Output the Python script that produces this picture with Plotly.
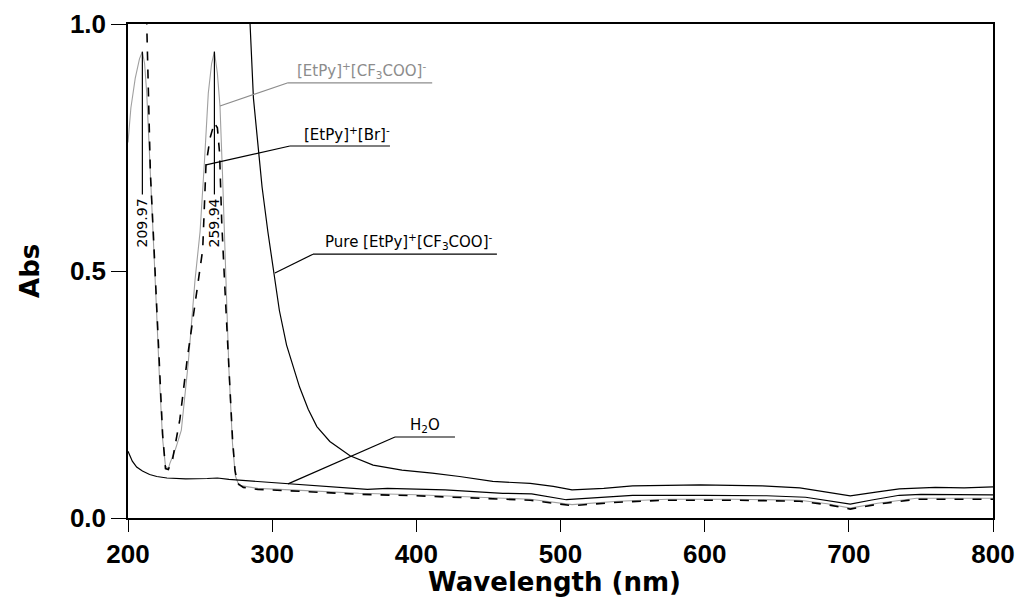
import plotly.graph_objects as go

# ---------------- data ----------------
pure_wl = [200, 250, 280, 284.6, 287, 291, 293, 297, 301, 305, 310, 315, 319, 325, 331, 340, 354,
           370, 390, 411, 430, 453, 479, 495, 508, 530, 550, 597, 640, 666, 685, 701, 720, 735,
           760, 780, 800]
pure_abs = [3.0, 2.5, 1.3, 1.0, 0.85, 0.73, 0.67, 0.58, 0.50, 0.42, 0.35, 0.30, 0.265, 0.22, 0.185,
            0.155, 0.126, 0.107, 0.097, 0.091, 0.084, 0.074, 0.070, 0.064, 0.057, 0.060, 0.065,
            0.067, 0.065, 0.061, 0.052, 0.045, 0.053, 0.059, 0.062, 0.061, 0.063]

h2o_wl = [200, 203, 206, 210, 215, 220, 227, 240, 255, 262, 270, 290, 311, 330, 350, 366, 380,
          420, 460, 480, 504, 520, 550, 600, 643, 670, 690, 701, 715, 735, 750, 800]
h2o_abs = [0.135, 0.115, 0.103, 0.095, 0.088, 0.084, 0.081, 0.079, 0.080, 0.081, 0.078, 0.074,
           0.069, 0.065, 0.062, 0.058, 0.060, 0.057, 0.050, 0.049, 0.037, 0.040, 0.046, 0.046,
           0.045, 0.042, 0.032, 0.028, 0.036, 0.046, 0.048, 0.047]

br_wl = [200, 210, 213, 214, 215.5, 217.5, 219.5, 222, 224, 226, 228, 231, 236, 241, 246, 248,
         251.8, 254.1, 257, 259.9, 262, 263.5, 265, 267.3, 270.3, 272.5, 274.2, 276, 280, 290, 320,
         360, 400, 440, 479, 508, 540, 574, 620, 666, 685, 701, 720, 747, 800]
br_abs = [2.0, 1.5, 1.0, 0.86, 0.70, 0.58, 0.46, 0.28, 0.17, 0.10, 0.098, 0.12, 0.20, 0.32, 0.42,
          0.46, 0.543, 0.715, 0.77, 0.80, 0.79, 0.74, 0.60, 0.46, 0.27, 0.16, 0.097, 0.07, 0.062,
          0.058, 0.054, 0.048, 0.045, 0.040, 0.036, 0.025, 0.032, 0.036, 0.036, 0.034, 0.027,
          0.018, 0.028, 0.038, 0.038]

cf3_wl = [200, 202, 205, 208, 209.97, 211.5, 213, 215, 217, 219.5, 222, 224, 226, 228, 229, 233,
          237, 241.8, 246.5, 250, 253, 255.7, 258, 259.94, 262, 263.8, 265.5, 267.5, 270, 272.5,
          274.5, 277, 290, 320, 360, 400, 440, 479, 508, 540, 574, 620, 666, 685, 701, 720, 747, 800]
cf3_abs = [0.76, 0.83, 0.89, 0.93, 0.944, 0.92, 0.86, 0.72, 0.58, 0.44, 0.27, 0.16, 0.105, 0.10,
           0.11, 0.14, 0.178, 0.314, 0.482, 0.58, 0.72, 0.86, 0.92, 0.944, 0.90, 0.834, 0.70,
           0.50, 0.30, 0.15, 0.085, 0.066, 0.060, 0.056, 0.050, 0.047, 0.042, 0.038, 0.027,
           0.034, 0.038, 0.038, 0.036, 0.029, 0.020, 0.030, 0.040, 0.040]

peak_wl = [209.97, 259.94]
peak_abs = [0.944, 0.944]
peak_labels = ["209.97", "259.94"]

x_ticks = [200, 300, 400, 500, 600, 700, 800]
y_ticks = [0.0, 0.5, 1.0]
y_ticklabels = ["0.0", "0.5", "1.0"]

# ---------------- figure ----------------
fig = go.Figure()
fig.add_trace(go.Scatter(x=cf3_wl, y=cf3_abs, mode="lines",
                         line=dict(color="#a0a0a0", width=1.1), name="[EtPy][CF3COO]"))
fig.add_trace(go.Scatter(x=br_wl, y=br_abs, mode="lines",
                         line=dict(color="black", width=1.6, dash="dash"), name="[EtPy][Br]"))
fig.add_trace(go.Scatter(x=h2o_wl, y=h2o_abs, mode="lines",
                         line=dict(color="black", width=1.2), name="H2O"))
fig.add_trace(go.Scatter(x=pure_wl, y=pure_abs, mode="lines",
                         line=dict(color="black", width=1.2), name="Pure"))

lab_family = "DejaVu Sans"

# peak markers
for wl, ab, txt in zip(peak_wl, peak_abs, peak_labels):
    fig.add_shape(type="line", x0=wl, x1=wl, y0=ab, y1=0.655, xref="x", yref="y",
                  line=dict(color="black", width=1.2))
    fig.add_annotation(x=wl, y=0.597, xref="x", yref="y", text=txt, textangle=-90,
                       showarrow=False, font=dict(family=lab_family, size=14, color="black"))

# label leaders: (text, text_x, leader end x,y, underline start x, underline end x, y, color)
labels = [
    ("[EtPy]<sup>+</sup>[CF<sub>3</sub>COO]<sup>-</sup>", 316, 263.8, 0.834, 311, 411, 0.881, "#8c8c8c"),
    ("[EtPy]<sup>+</sup>[Br]<sup>-</sup>", 321, 254.1, 0.715, 312.3, 381.7, 0.753, "black"),
    ("Pure [EtPy]<sup>+</sup>[CF<sub>3</sub>COO]<sup>-</sup>", 335, 301.9, 0.496, 328.3, 455.9, 0.534, "black"),
    ("H<sub>2</sub>O", 394, 311, 0.069, 385.2, 426.8, 0.164, "black"),
]
for txt, tx, ex, ey, ux0, ux1, uy, col in labels:
    fig.add_shape(type="line", x0=ex, y0=ey, x1=ux0, y1=uy, xref="x", yref="y",
                  line=dict(color=col, width=1.2))
    fig.add_shape(type="line", x0=ux0, y0=uy, x1=ux1, y1=uy, xref="x", yref="y",
                  line=dict(color=col, width=1.2))
    fig.add_annotation(x=tx, y=uy, xref="x", yref="y", text=txt, showarrow=False,
                       xanchor="left", yanchor="bottom", yshift=0,
                       font=dict(family=lab_family, size=15, color=col))

tick_font = dict(family="Liberation Sans, Arial", size=26, color="black", weight="bold")
title_font = dict(family="DejaVu Sans", size=26, color="black", weight="bold")

# axis titles
fig.add_annotation(text="Wavelength (nm)", x=0.4925, y=0, xref="paper", yref="paper",
                   yanchor="middle", yshift=-64, showarrow=False, font=title_font)
fig.add_annotation(text="Abs", x=-0.1133, y=0.5, xref="paper", yref="paper",
                   xanchor="center", yanchor="middle", textangle=-90, showarrow=False,
                   font=title_font)

fig.update_layout(
    width=1027, height=609,
    margin=dict(l=128, r=34, t=24, b=91),
    paper_bgcolor="white", plot_bgcolor="white",
    showlegend=False,
    xaxis=dict(range=[200, 800], tickvals=x_ticks, ticks="outside", ticklen=12, tickwidth=1,
               tickcolor="black", showline=True, linecolor="black", linewidth=1.5, mirror=True,
               showgrid=False, zeroline=False, tickfont=tick_font, automargin=False),
    yaxis=dict(range=[0, 1], tickvals=y_ticks, ticktext=y_ticklabels, ticks="outside", ticklen=15,
               tickwidth=1, tickcolor="black", showline=True, linecolor="black", linewidth=1.5,
               mirror=True, showgrid=False, zeroline=False, tickfont=tick_font, automargin=False),
)

fig.write_html("out.html", config={"displayModeBar": False},
               post_script="document.body.style.margin='0';document.body.style.padding='0';")
